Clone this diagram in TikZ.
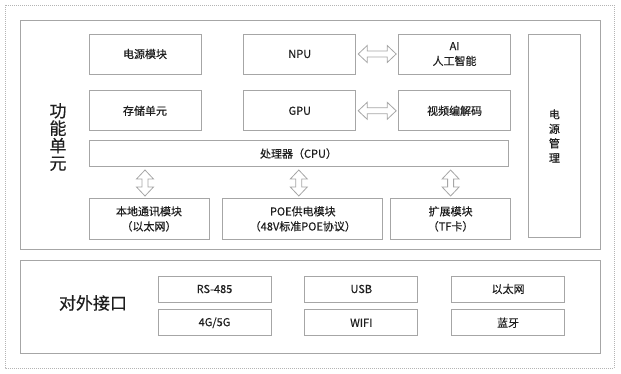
\documentclass[tikz,border=0pt]{standalone}
\usepackage{fontspec}
\setmainfont{Noto Sans CJK SC}[FakeBold=0.4]
\usetikzlibrary{positioning,calc}
\definecolor{frame}{HTML}{A6A6A6}
\definecolor{outline}{HTML}{B4B4B4}
\definecolor{ink}{HTML}{1E1E1E}
\tikzset{
  unit/.style={draw=frame,fill=white,line width=0.8pt,minimum width=112pt,
               minimum height=40pt,inner sep=0pt,align=center,text=ink,
               font=\fontsize{11}{15}\selectfont},
  port/.style={unit,minimum width=113pt,minimum height=26pt},
  group/.style={draw=frame,line width=0.9pt},
  outer/.style={draw=outline,line width=0.6pt,dash pattern=on 1pt off 1pt},
  title/.style={align=center,text=ink,font=\fontsize{17}{17.5}\selectfont},
  harrow/.style={draw=frame,fill=white,line width=0.8pt,to path={
    ($(\tikztostart)+(2,0)$) -- ($(\tikztostart)+(11,-8.5)$) -- ($(\tikztostart)+(11,-3)$)
    -- ($(\tikztotarget)+(-11,-3)$) -- ($(\tikztotarget)+(-11,-8.5)$) -- ($(\tikztotarget)+(-2,0)$)
    -- ($(\tikztotarget)+(-11,8.5)$) -- ($(\tikztotarget)+(-11,3)$)
    -- ($(\tikztostart)+(11,3)$) -- ($(\tikztostart)+(11,8.5)$) -- cycle}},
  varrow/.style={draw=frame,fill=white,line width=0.8pt,to path={
    ($(\tikztostart)+(0,3)$) -- ($(\tikztostart)+(-8.5,12)$) -- ($(\tikztostart)+(-3,12)$)
    -- ($(\tikztotarget)+(-3,-11)$) -- ($(\tikztotarget)+(-8.5,-11)$) -- ($(\tikztotarget)+(0,-2)$)
    -- ($(\tikztotarget)+(8.5,-11)$) -- ($(\tikztotarget)+(3,-11)$)
    -- ($(\tikztostart)+(3,12)$) -- ($(\tikztostart)+(8.5,12)$) -- cycle}}
}
\begin{document}
\begin{tikzpicture}[x=1pt,y=-1pt]
\useasboundingbox (0,0) rectangle (621,374);
\draw[outer] (5,5) rectangle (614,368);
\draw[group] (20,20) rectangle (600,249);
\draw[group] (20,260) rectangle (600,353);
% function unit
\node[title] (funclbl) at (58,137) {功\\能\\单\\元};
\node[unit] (pwr) at (145,54) {电源模块};
\node[unit,right=42pt of pwr] (npu) {NPU};
\node[unit,right=42pt of npu] (ai) {AI\\人工智能};
\node[unit,below=16pt of pwr] (mem) {存储单元};
\node[unit,below=16pt of npu] (gpu) {GPU};
\node[unit,below=16pt of ai] (codec) {视频编解码};
\node[unit,minimum width=419pt,minimum height=26pt,below=9pt of mem.south west,anchor=north west] (cpu) {处理器（CPU）};
\node[unit,minimum width=120pt,minimum height=41pt,below=31pt of cpu.south west,anchor=north west] (local) {本地通讯模块\\（以太网）};
\node[unit,minimum width=160pt,minimum height=41pt,right=13pt of local] (poe) {POE供电模块\\（48V标准POE协议）};
\node[unit,minimum width=120pt,minimum height=41pt,right=7pt of poe] (ext) {扩展模块\\（TF卡）};
\node[unit,minimum width=52pt,minimum height=203pt,anchor=north west,font=\fontsize{11}{14.5}\selectfont] (pm) at (528,34) {电\\源\\管\\理};
\draw[harrow] (npu.east) to (ai.west);
\draw[harrow] (gpu.east) to (codec.west);
\draw[varrow] ([xshift=-4pt]cpu.south -| local.north) to ([xshift=-4pt]local.north);
\draw[varrow] ([xshift=-4pt]cpu.south -| poe.north) to ([xshift=-4pt]poe.north);
\draw[varrow] (cpu.south -| ext.north) to (ext.north);
% external interfaces
\node[title] (portlbl) at (93,303) {对外接口};
\node[port] (rs) at (214.5,289) {RS-485};
\node[port,below=7pt of rs] (cell) {4G/5G};
\node[port,right=33pt of rs] (usb) {USB};
\node[port,below=7pt of usb] (wifi) {WIFI};
\node[port,right=33pt of usb] (eth) {以太网};
\node[port,below=7pt of eth] (bt) {蓝牙};
\end{tikzpicture}
\end{document}
